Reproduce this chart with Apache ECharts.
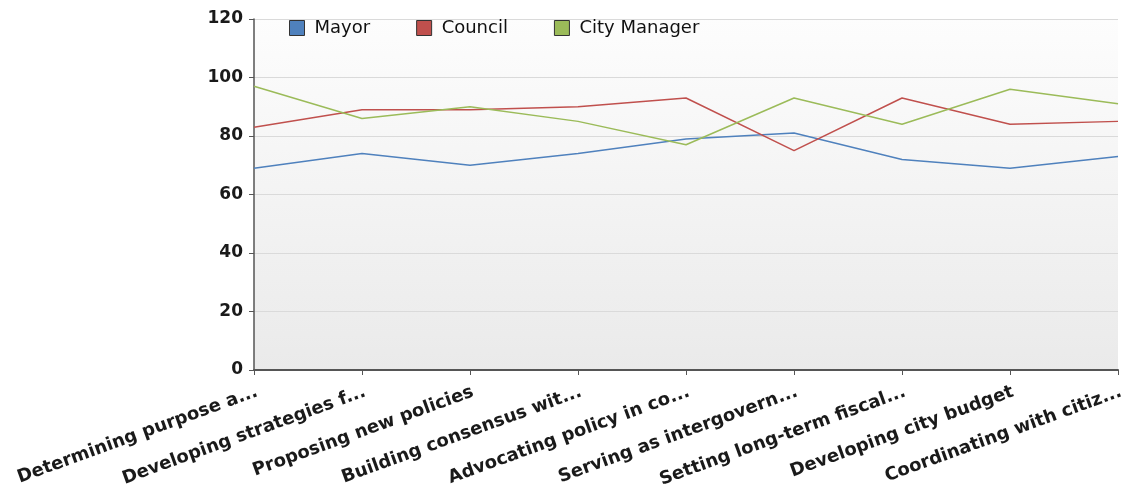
<!DOCTYPE html>
<html>
<head>
<meta charset="utf-8">
<script src="https://cdn.jsdelivr.net/npm/echarts@6/dist/echarts.min.js"></script>
<style>
  html, body { margin: 0; padding: 0; background: #ffffff; }
  #chart { width: 1127px; height: 494px; }
</style>
</head>
<body>
<div id="chart"></div>
<script>
// Role categories along the x axis
const categories = [
  'Determining purpose a...',
  'Developing strategies f...',
  'Proposing new policies',
  'Building consensus wit...',
  'Advocating policy in co...',
  'Serving as intergovern...',
  'Setting long-term fiscal...',
  'Developing city budget',
  'Coordinating with citiz...'
];

// Series values (percent)
const mayor = [69, 74, 70, 74, 79, 81, 72, 69, 73];
const council = [83, 89, 89, 90, 93, 75, 93, 84, 85];
const cityManager = [97, 86, 90, 85, 77, 93, 84, 96, 91];

// Y axis range and step
const yMin = 0;
const yMax = 120;
const yStep = 20;

const seriesNames = ['Mayor', 'Council', 'City Manager'];
const seriesColors = ['#4f81bd', '#c0504d', '#9bbb59'];
const seriesData = [mayor, council, cityManager];

const chart = echarts.init(document.getElementById('chart'), null, { renderer: 'canvas' });

chart.setOption({
  animation: false,
  backgroundColor: '#ffffff',
  color: seriesColors,
  legend: {
    left: 284,
    top: 14,
    icon: 'rect',
    itemWidth: 15,
    itemHeight: 15,
    itemGap: 46,
    itemStyle: { borderColor: '#333333', borderWidth: 1 },
    textStyle: {
      fontFamily: 'DejaVu Sans',
      fontSize: 18,
      color: '#111111',
      padding: [0, 0, 0, 5]
    },
    data: seriesNames
  },
  grid: {
    left: 254,
    right: 6,
    top: 19,
    bottom: 124,
    show: true,
    borderWidth: 0,
    backgroundColor: new echarts.graphic.LinearGradient(0, 0, 0, 1, [
      { offset: 0, color: '#fdfdfd' },
      { offset: 1, color: '#eaeaea' }
    ])
  },
  xAxis: {
    type: 'category',
    data: categories,
    boundaryGap: false,
    axisLine: { lineStyle: { color: '#555555', width: 2 } },
    axisTick: { show: true, length: 5, lineStyle: { color: '#555555' } },
    axisLabel: {
      interval: 0,
      rotate: 20,
      margin: 13,
      align: 'right',
      verticalAlign: 'top',
      fontFamily: 'DejaVu Sans',
      fontWeight: 'bold',
      fontSize: 18,
      color: '#1a1a1a'
    },
    splitLine: { show: false }
  },
  yAxis: {
    type: 'value',
    min: yMin,
    max: yMax,
    interval: yStep,
    axisLine: { show: true, lineStyle: { color: '#555555', width: 1.5 } },
    axisTick: { show: true, length: 5, lineStyle: { color: '#555555' } },
    axisLabel: {
      margin: 11,
      fontFamily: 'DejaVu Sans',
      fontWeight: 'bold',
      fontSize: 17,
      color: '#1a1a1a'
    },
    splitLine: { show: true, lineStyle: { color: '#dadada', width: 1 } }
  },
  series: seriesNames.map((name, i) => ({
    name: name,
    type: 'line',
    data: seriesData[i],
    showSymbol: false,
    symbol: 'none',
    lineStyle: { width: 1.5, color: seriesColors[i] },
    itemStyle: { color: seriesColors[i] }
  }))
});
</script>
</body>
</html>
